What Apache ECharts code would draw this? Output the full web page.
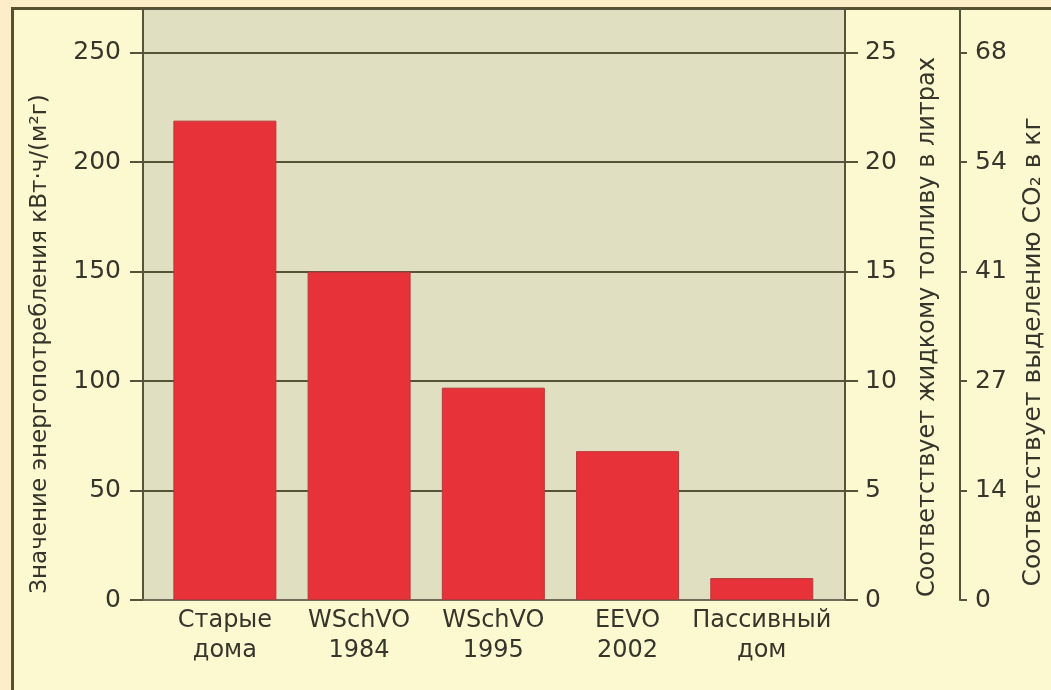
<!DOCTYPE html>
<html>
<head>
<meta charset="utf-8">
<script src="https://cdn.jsdelivr.net/npm/echarts@6/dist/echarts.min.js"></script>
<style>
    html, body { margin: 0; padding: 0; background: #fdeec9; }
    #chart { width: 1051px; height: 690px; }
</style>
</head>
<body>
<div id="chart"></div>
<script>
// категории и значения (кВт·ч/(м²г))
var categories = ['Старые\nдома', 'WSchVO\n1984', 'WSchVO\n1995', 'EEVO\n2002', 'Пассивный\nдом'];
var energyValues = [219, 150, 97, 68, 10];
// подписи правой оси CO2 (стоят на тех же делениях, что и 0..250)
var co2Labels = ['0', '14', '27', '41', '54', '68'];

var titleLeft = 'Значение энергопотребления кВт·ч/(м²г)';
var titleFuel = 'Соответствует жидкому топливу в литрах';
var titleCo2 = 'Соответствует выделению CO₂ в кг';

var lineColor = '#55533a';
var textColor = '#36352b';
var font = 'DejaVu Sans';

var chart = echarts.init(document.getElementById('chart'));

var barData = [];
for (var i = 0; i < energyValues.length; i++) {
    barData.push([i, energyValues[i]]);
}

// общие настройки для трёх вертикальных осей
function yAxisBase(pos) {
    return {
        type: 'value',
        position: pos,
        axisLine: { show: true, onZero: false, lineStyle: { color: lineColor, width: 2 } },
        axisTick: { show: true, length: 13, lineStyle: { color: lineColor, width: 2 } },
        axisLabel: { showMaxLabel: false, color: textColor, fontFamily: font, fontSize: 25 },
        splitLine: { show: false }
    };
}

var yLeft = yAxisBase('left');
yLeft.min = 0;
yLeft.max = 270;
yLeft.interval = 50;
yLeft.axisLabel.margin = 22;
yLeft.splitLine = { show: true, lineStyle: { color: lineColor, width: 2 } };

var yFuel = yAxisBase('right');
yFuel.min = 0;
yFuel.max = 27;
yFuel.interval = 5;
yFuel.axisLabel.margin = 20;

var yCo2 = yAxisBase('right');
yCo2.offset = 115;
yCo2.min = 0;
yCo2.max = 270;
yCo2.interval = 50;
yCo2.axisTick.length = 7;
yCo2.axisLabel.margin = 15;
yCo2.axisLabel.formatter = function(v) { return co2Labels[Math.round(v / 50)]; };

var option = {
    backgroundColor: '#fdeec9',
    animation: false,
    graphic: [
        {
            type: 'rect',
            z: -10,
            shape: { x: 12.5, y: 8.5, width: 1100, height: 700 },
            style: { fill: '#fcf8cf', stroke: '#57502f', lineWidth: 3 }
        },
        {
            type: 'text', x: 40, y: 344, rotation: Math.PI / 2, z: 10,
            style: { text: titleLeft, align: 'center', verticalAlign: 'middle', fill: textColor, font: '23px "DejaVu Sans"' }
        },
        {
            type: 'text', x: 928, y: 327, rotation: Math.PI / 2, z: 10,
            style: { text: titleFuel, align: 'center', verticalAlign: 'middle', fill: textColor, font: '24px "DejaVu Sans"' }
        },
        {
            type: 'text', x: 1033, y: 352, rotation: Math.PI / 2, z: 10,
            style: { text: titleCo2, align: 'center', verticalAlign: 'middle', fill: textColor, font: '25px "DejaVu Sans"' }
        }
    ],
    grid: {
        left: 143,
        right: 206,
        top: 9,
        bottom: 90,
        show: true,
        backgroundColor: '#e0dfc1',
        borderWidth: 0
    },
    xAxis: {
        type: 'value',
        min: -0.61,
        max: 4.62,
        splitLine: { show: false },
        axisTick: { show: false },
        axisLine: { show: true, onZero: false, lineStyle: { color: '#77755e', width: 1.5 } },
        axisLabel: {
            customValues: [0, 1, 2, 3, 4],
            formatter: function(v) { return categories[Math.round(v)]; },
            color: textColor,
            fontFamily: font,
            fontSize: 24,
            lineHeight: 30,
            margin: 6
        }
    },
    yAxis: [yLeft, yFuel, yCo2],
    series: [{
        type: 'bar',
        yAxisIndex: 0,
        barWidth: 103,
        data: barData,
        itemStyle: { color: '#e8323a', borderColor: '#b8393a', borderWidth: 1 }
    }]
};

chart.setOption(option);
</script>
</body>
</html>
